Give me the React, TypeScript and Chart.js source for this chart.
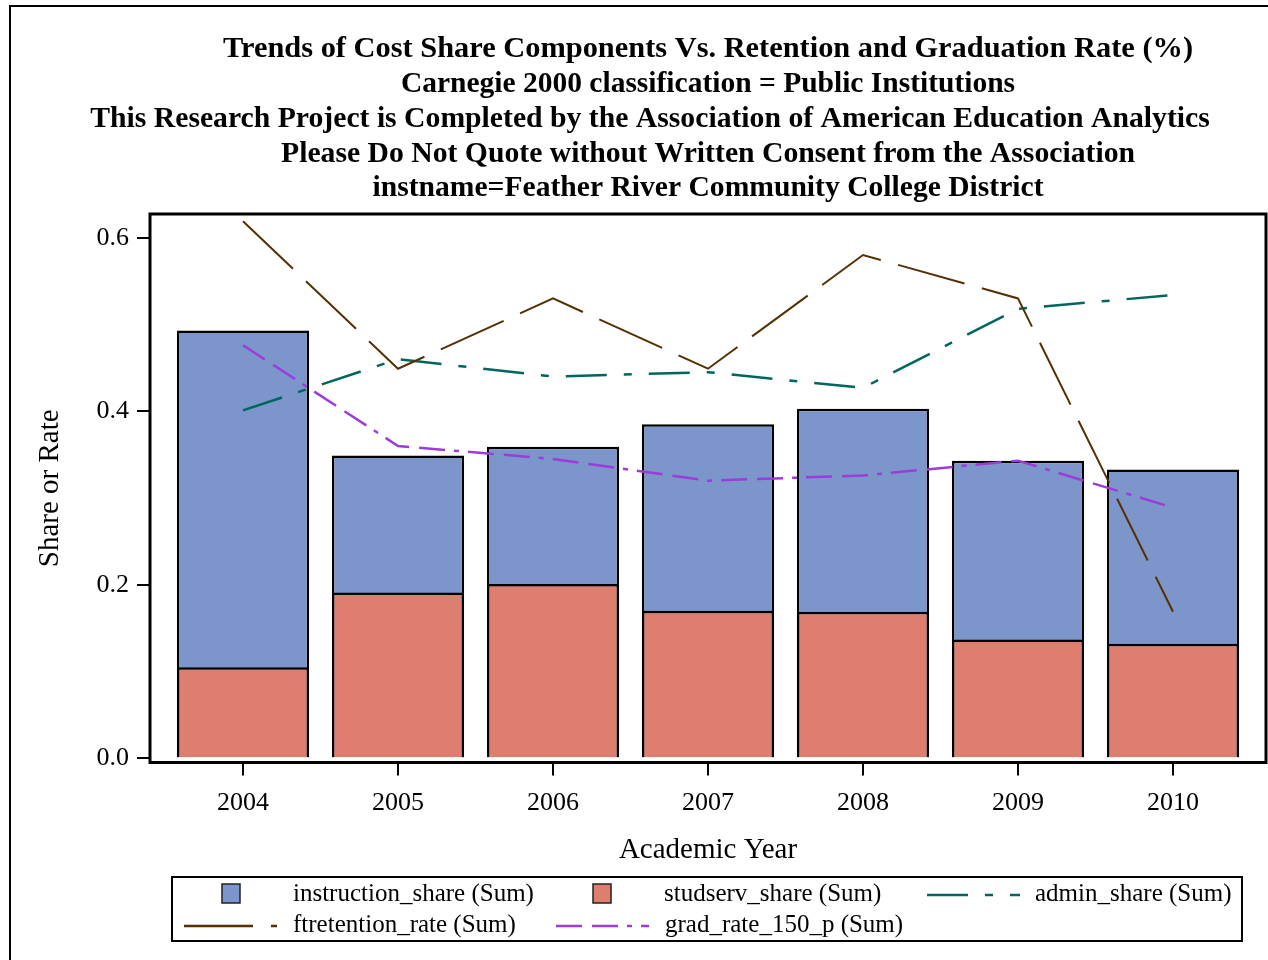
import React, { useEffect, useRef } from "react";
import { Chart, registerables } from "chart.js";

Chart.register(...registerables);

const years = [2004, 2005, 2006, 2007, 2008, 2009, 2010];
const instructionShare = [0.493, 0.349, 0.359, 0.385, 0.403, 0.343, 0.333];
const studservShare = [0.105, 0.191, 0.201, 0.170, 0.169, 0.137, 0.132];
const adminShare = [0.401, 0.460, 0.440, 0.445, 0.427, 0.518, 0.534];
const ftretentionRate = [0.619, 0.449, 0.530, 0.449, 0.580, 0.530, 0.169];
const gradRate150 = [0.476, 0.360, 0.345, 0.320, 0.326, 0.343, 0.289];

const titleLines = [
  "Trends of Cost Share Components Vs. Retention and Graduation Rate (%)",
  "Carnegie 2000 classification = Public Institutions",
  "This Research Project is Completed by the Association of American Education Analytics",
  "Please Do Not Quote without Written Consent from the Association",
  "instname=Feather River Community College District",
];
const yAxisTitle = "Share or Rate";
const xAxisTitle = "Academic Year";

const COLORS = {
  instruction: "#7C95CA",
  studserv: "#DE7E6F",
  admin: "#01665E",
  ftretention: "#543005",
  grad: "#9D3CDB",
};
const DASH = {
  admin: [41, 17, 8, 17],
  ftretention: [69, 18],
  grad: [26, 10, 26, 9, 5, 9],
};

const SERIF = "'Liberation Serif', 'Times New Roman', serif";

type LegendItem = { label: string; kind: "box" | "line"; color: string; dash?: number[]; row: number; x: number };
const legendItems: LegendItem[] = [
  { label: "instruction_share (Sum)", kind: "box", color: COLORS.instruction, row: 0, x: 222 },
  { label: "studserv_share (Sum)", kind: "box", color: COLORS.studserv, row: 0, x: 593 },
  { label: "admin_share (Sum)", kind: "line", color: COLORS.admin, dash: DASH.admin, row: 0, x: 927 },
  { label: "ftretention_rate (Sum)", kind: "line", color: COLORS.ftretention, dash: DASH.ftretention, row: 1, x: 184 },
  { label: "grad_rate_150_p (Sum)", kind: "line", color: COLORS.grad, dash: DASH.grad, row: 1, x: 556 },
];

const decorPlugin = {
  id: "decor",
  afterDraw(chart: any) {
    const ctx = chart.ctx as CanvasRenderingContext2D;
    const ca = chart.chartArea;
    ctx.save();
    // outer frame
    ctx.strokeStyle = "#000";
    ctx.lineWidth = 2;
    ctx.strokeRect(10, 6, 1400, 1100);
    // plot frame
    ctx.lineWidth = 3;
    ctx.strokeRect(ca.left, ca.top, ca.right - ca.left, ca.bottom - ca.top);
    // titles
    ctx.fillStyle = "#000";
    ctx.textBaseline = "alphabetic";
    ctx.textAlign = "center";
    const centers = [708, 708, 650, 708, 708];
    const baselines = [57, 92, 127, 162, 196];
    const sizes = [30.4, 29.5, 29.7, 29.7, 29.6];
    titleLines.forEach((t, i) => {
      ctx.font = `bold ${sizes[i]}px ${SERIF}`;
      ctx.fillText(t, centers[i], baselines[i]);
    });
    // legend
    const lx = 172, ly = 877, lw = 1070, lh = 64;
    ctx.lineWidth = 2;
    ctx.strokeStyle = "#000";
    ctx.strokeRect(lx, ly, lw, lh);
    const rowY = [894, 925];
    ctx.font = `25px ${SERIF}`;
    ctx.textAlign = "left";
    ctx.textBaseline = "middle";
    legendItems.forEach((it) => {
      const y = rowY[it.row];
      let textX: number;
      if (it.kind === "box") {
        ctx.fillStyle = it.color;
        ctx.fillRect(it.x, y - 10, 18, 19);
        ctx.lineWidth = 1.5;
        ctx.strokeStyle = "#222";
        ctx.strokeRect(it.x, y - 10, 18, 19);
        textX = it.x + 71;
      } else {
        ctx.beginPath();
        ctx.setLineDash(it.dash || []);
        ctx.lineWidth = 2.5;
        ctx.strokeStyle = it.color;
        ctx.moveTo(it.x, y + 1);
        ctx.lineTo(it.x + 93, y + 1);
        ctx.stroke();
        ctx.setLineDash([]);
        textX = it.x + (it.row === 0 ? 108 : 109);
      }
      ctx.fillStyle = "#000";
      ctx.fillText(it.label, textX, y);
    });
    ctx.restore();
  },
};

export default function App() {
  const ref = useRef<HTMLCanvasElement | null>(null);
  useEffect(() => {
    if (!ref.current) return;
    const pts = (arr: number[]) => years.map((x, i) => ({ x, y: arr[i] }));
    const chart = new Chart(ref.current, {
      type: "bar",
      data: {
        datasets: [
          {
            type: "line",
            label: "ftretention_rate (Sum)",
            data: pts(ftretentionRate),
            borderColor: COLORS.ftretention,
            borderWidth: 2,
            borderDash: DASH.ftretention,
            pointRadius: 0,
            fill: false,
            tension: 0,
            order: 0,
          } as any,
          {
            type: "line",
            label: "admin_share (Sum)",
            data: pts(adminShare),
            borderColor: COLORS.admin,
            borderWidth: 2.5,
            borderDash: DASH.admin,
            pointRadius: 0,
            fill: false,
            tension: 0,
            order: 0,
          } as any,
          {
            type: "line",
            label: "grad_rate_150_p (Sum)",
            data: pts(gradRate150),
            borderColor: COLORS.grad,
            borderWidth: 2.5,
            borderDash: DASH.grad,
            pointRadius: 0,
            fill: false,
            tension: 0,
            order: 0,
          } as any,
          {
            type: "bar",
            label: "studserv_share (Sum)",
            data: pts(studservShare),
            backgroundColor: COLORS.studserv,
            borderColor: "#000",
            borderWidth: 2.5,
            categoryPercentage: 0.853,
            barPercentage: 1,
            order: 1,
          } as any,
          {
            type: "bar",
            label: "instruction_share (Sum)",
            data: pts(instructionShare),
            backgroundColor: COLORS.instruction,
            borderColor: "#000",
            borderWidth: 2.5,
            categoryPercentage: 0.853,
            barPercentage: 1,
            order: 2,
          } as any,
        ],
      },
      options: {
        responsive: false,
        animation: false,
        events: [],
        layout: { padding: { left: 0, top: 214, right: 2, bottom: 0 } },
        plugins: { legend: { display: false }, title: { display: false }, tooltip: { enabled: false } },
        scales: {
          x: {
            type: "linear",
            stacked: true,
            min: 2003.4,
            max: 2010.6,
            offset: false,
            afterFit: (s: any) => { s.height = 197.5; },
            border: { display: false },
            grid: { offset: false, drawOnChartArea: false, drawTicks: true, tickLength: 13, color: "#000", lineWidth: 2 },
            ticks: {
              stepSize: 1,
              includeBounds: false,
              autoSkip: false,
              maxRotation: 0,
              padding: 12,
              color: "#000",
              font: { family: SERIF, size: 26 },
              callback: (v: any) => String(v),
            },
            title: {
              display: true,
              text: xAxisTitle,
              color: "#000",
              font: { family: SERIF, size: 29 },
              padding: { top: 0, bottom: 92 },
            },
          },
          y: {
            type: "linear",
            stacked: false,
            min: -0.0048,
            max: 0.6273,
            afterFit: (s: any) => { s.width = 150; },
            border: { display: false },
            grid: { drawOnChartArea: false, drawTicks: true, tickLength: 13, color: "#000", lineWidth: 2 },
            ticks: {
              stepSize: 0.2,
              includeBounds: false,
              padding: 8,
              color: "#000",
              font: { family: SERIF, size: 26 },
              callback: (v: any) => Number(v).toFixed(1),
            },
            title: {
              display: true,
              text: yAxisTitle,
              color: "#000",
              font: { family: SERIF, size: 29 },
              padding: { top: 33, bottom: 0 },
            },
          },
        },
      } as any,
      plugins: [decorPlugin],
    });
    return () => chart.destroy();
  }, []);
  return (
    <div style={{ position: "absolute", left: 0, top: 0, width: 1268, height: 960, overflow: "hidden", background: "#fff" }}>
      <canvas ref={ref} width={1268} height={960} style={{ display: "block", width: 1268, height: 960 }} />
    </div>
  );
}
